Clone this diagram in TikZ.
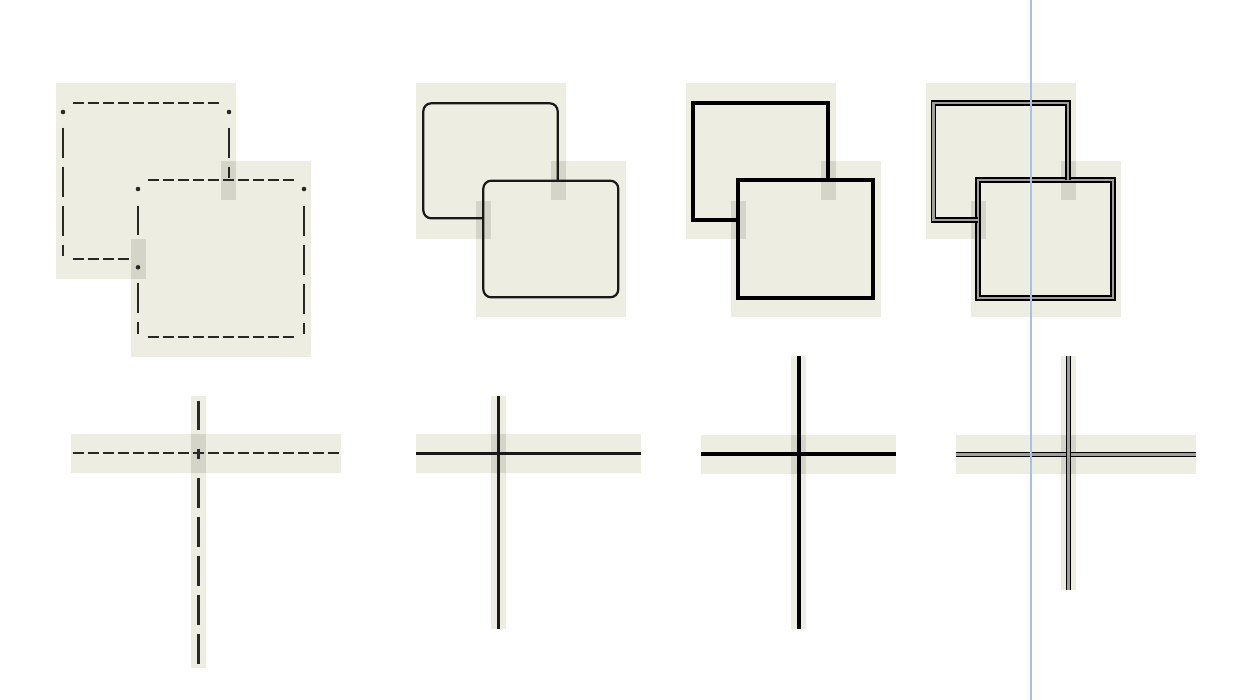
\documentclass[tikz,border=0pt]{standalone}
\definecolor{bgc}{RGB}{237,237,225}
\definecolor{patchc}{RGB}{212,212,201}
\definecolor{inkd}{RGB}{40,40,40}
\definecolor{inks}{RGB}{25,25,25}
\definecolor{bluec}{RGB}{158,196,238}
\definecolor{dblmid}{RGB}{160,160,152}
\tikzset{
  bgbox/.style={fill=bgc, draw=none},
  patchbox/.style={fill=patchc, draw=none},
  dashh/.style={draw=inkd, line width=2.4pt, line cap=butt, dash pattern=on 11.5pt off 3.5pt},
  dashv/.style={draw=inkd, line width=2.4pt, line cap=butt, dash pattern=on 30pt off 9pt},
  plainv/.style={draw=inkd, line width=2.4pt, line cap=butt},
  dotmark/.style={fill=inkd, draw=none},
  thinline/.style={draw=inks, line width=2.2pt},
  thickline/.style={draw=black, line width=4pt, line join=miter},
  dblline/.style={draw=black, line width=1.6pt, double=dblmid, double distance=2.4pt, line join=miter},
  guide/.style={draw=bluec, line width=2pt}
}
\begin{document}
\begin{tikzpicture}[x=1pt,y=-1pt]
\fill[white] (0,0) rectangle (1249,700);
\useasboundingbox (0,0) rectangle (1249,700);

% ---------- Panel 1: dashed ----------
\fill[bgbox] (56,83) rectangle (236,279);
\fill[bgbox] (131,161) rectangle (311,357);
\fill[patchbox] (221,161) rectangle (236,200);
\fill[patchbox] (131,239) rectangle (146,279);
% back
\draw[dashh] (72.7,103) -- (219.3,103);
\draw[dashv] (63,127.7) -- (63,255.7);
\draw[dashv] (229,127.7) -- (229,177.7);
\draw[dashh] (72.7,259) -- (129.3,259);
\fill[dotmark] (63,112) circle (2.3pt);
\fill[dotmark] (229,112) circle (2.3pt);
% front
\draw[dashh] (147.7,180) -- (294.3,180);
\draw[dashh] (147.7,337) -- (294.3,337);
\draw[plainv] (138,206) -- (138,235);
\draw[dashv] (138,283.3) -- (138,334);
\draw[dashv] (304,206) -- (304,334);
\fill[dotmark] (138,189) circle (2.3pt);
\fill[dotmark] (304,189) circle (2.3pt);
\fill[dotmark] (138,267.3) circle (2.3pt);

% ---------- Panel 2: solid rounded ----------
\fill[bgbox] (416,83) rectangle (566,239);
\fill[bgbox] (476,161) rectangle (626,317);
\fill[patchbox] (551,161) rectangle (566,200);
\fill[patchbox] (476,200.7) rectangle (491,239);
\draw[thinline, rounded corners=8pt] (483.3,180.7) rectangle (618.3,297.3);
\draw[thinline, rounded corners=8pt] (483.3,218.3) -- (423.3,218.3) -- (423.3,103.3) -- (557.7,103.3) -- (557.7,180.7);

% ---------- Panel 3: thick ----------
\fill[bgbox] (686,83) rectangle (836,239);
\fill[bgbox] (731,161) rectangle (881,317);
\fill[patchbox] (821,161) rectangle (836,200);
\fill[patchbox] (731,200.7) rectangle (746,239);
\draw[thickline] (737.7,180) rectangle (872.7,298.3);
\draw[thickline] (737.7,220) -- (693.3,220) -- (693.3,103.3) -- (827.7,103.3) -- (827.7,180);

% ---------- Panel 4: double ----------
\fill[bgbox] (926,83) rectangle (1076,239);
\fill[bgbox] (971,161) rectangle (1121,317);
\fill[patchbox] (1061,161) rectangle (1076,200);
\fill[patchbox] (971,200.7) rectangle (986,239);
\draw[dblline] (977.7,180) rectangle (1112.7,298.3);
\draw[dblline] (977.7,220) -- (933.3,220) -- (933.3,103.3) -- (1067.7,103.3) -- (1067.7,180);

% ---------- Cross 1: dashed ----------
\fill[bgbox] (71,434.3) rectangle (341,473.3);
\fill[bgbox] (191,395.7) rectangle (206,668);
\fill[patchbox] (191,434.3) rectangle (206,473.3);
\draw[dashh] (72.7,453) -- (339.2,453);
\draw[plainv] (198.3,401) -- (198.3,430);
\draw[plainv] (198.3,448.5) -- (198.3,458.5);
\draw[dashv] (198.3,478) -- (198.3,664);

% ---------- Cross 2: thin ----------
\fill[bgbox] (416,434.3) rectangle (641,473.3);
\fill[bgbox] (491,395.7) rectangle (506,629);
\fill[patchbox] (491,434.3) rectangle (506,473.3);
\draw[thinline] (416,453.5) -- (641,453.5);
\draw[thinline] (498.5,396) -- (498.5,629);

% ---------- Cross 3: thick ----------
\fill[bgbox] (701,434.7) rectangle (896,473.7);
\fill[bgbox] (791,356) rectangle (806,629);
\fill[patchbox] (791,434.7) rectangle (806,473.7);
\draw[thickline] (701,454) -- (896,454);
\draw[thickline] (798.5,356) -- (798.5,629);

% ---------- Cross 4: double ----------
\fill[bgbox] (956,434.7) rectangle (1196,473.7);
\fill[bgbox] (1061,356) rectangle (1076,590);
\fill[patchbox] (1061,434.7) rectangle (1076,473.7);
\draw[dblline] (956,454.3) -- (1196,454.3);
\draw[dblline] (1068.3,356) -- (1068.3,590);

% ---------- guide line ----------
\draw[guide] (1031,0) -- (1031,700);
\end{tikzpicture}
\end{document}
